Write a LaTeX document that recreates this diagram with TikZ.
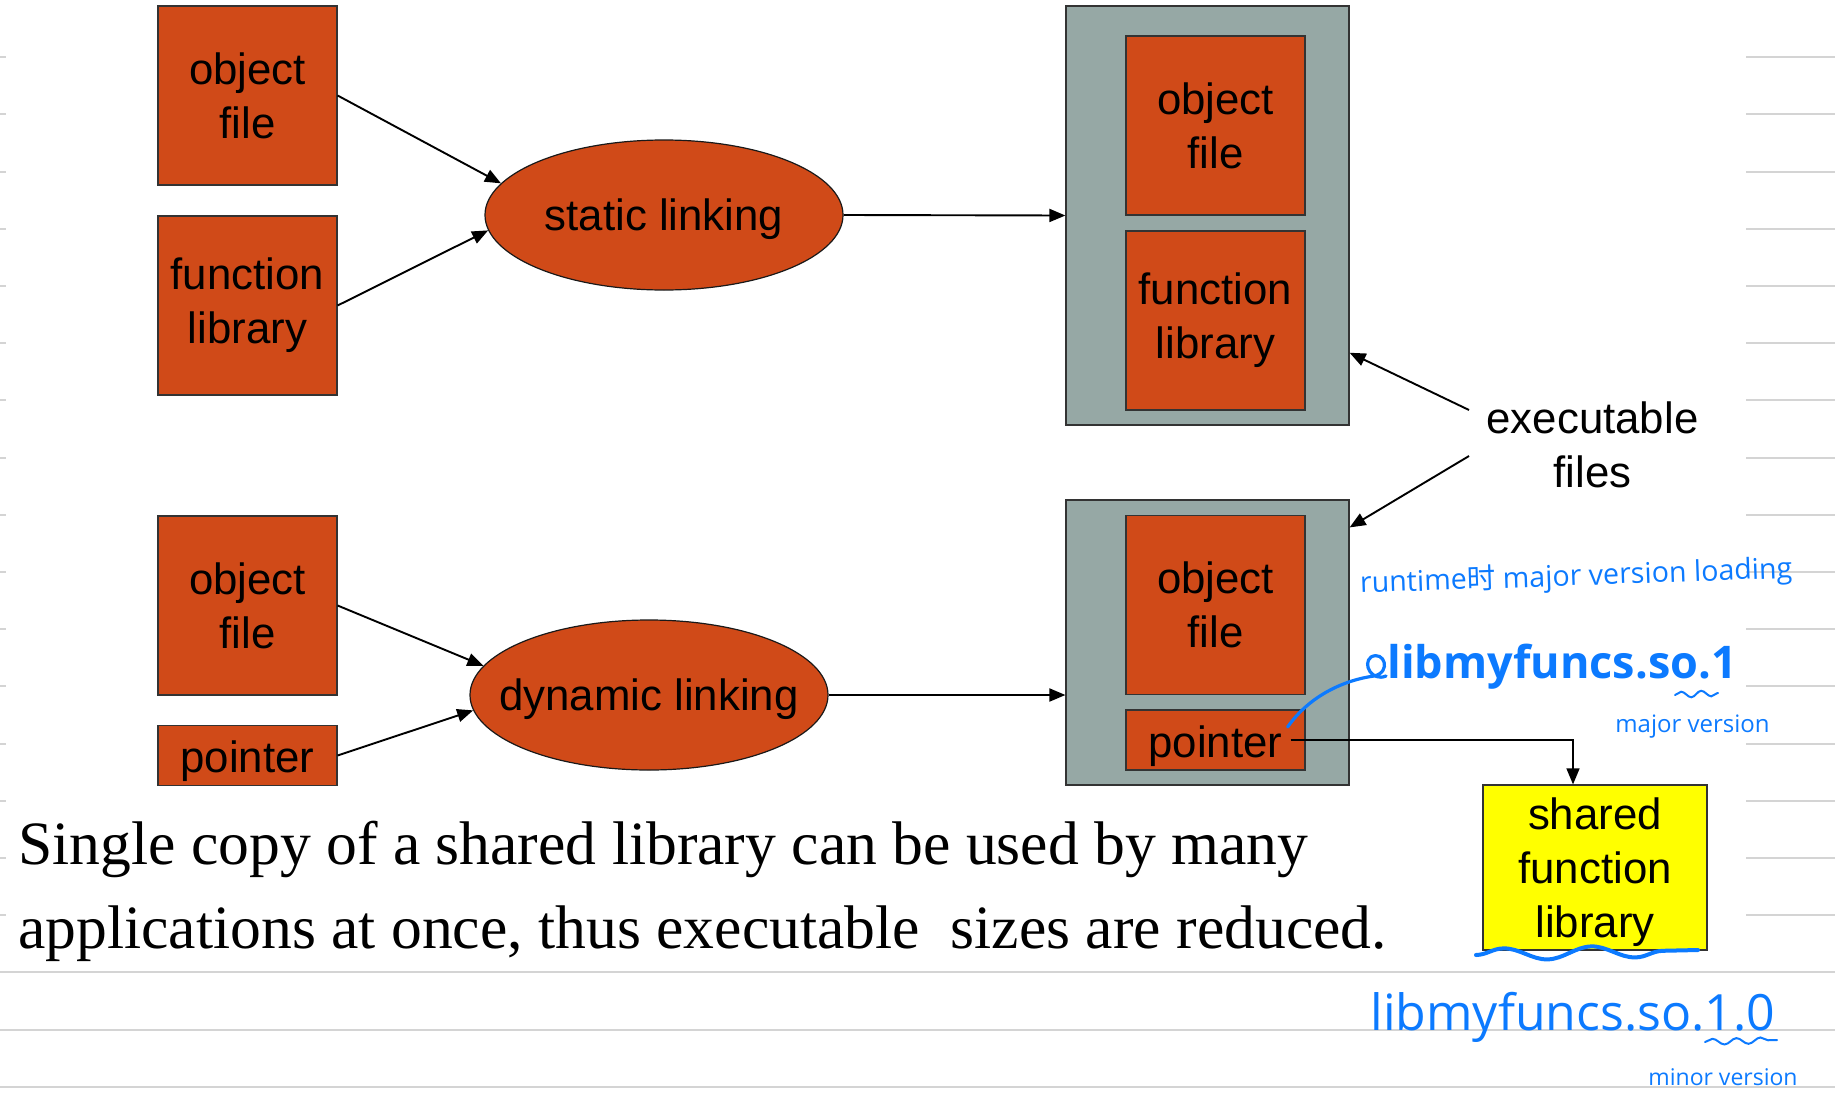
\documentclass[tikz,border=0pt]{standalone}
\usepackage{fontspec}
\setmainfont{Liberation Serif}
\setsansfont{Liberation Sans}
\newfontfamily\handfont{Open Sans}
\newfontfamily\cjkfont{Noto Sans CJK SC}
\usetikzlibrary{arrows.meta, shapes.geometric, decorations.pathmorphing}
\definecolor{myRust}{RGB}{208,74,24}
\definecolor{mySlate}{RGB}{150,168,165}
\definecolor{myYellow}{RGB}{255,255,0}
\definecolor{myInk}{RGB}{12,122,255}
\definecolor{myRule}{RGB}{212,212,212}

\begin{document}
\begin{tikzpicture}[
  x=0.5pt, y=-0.5pt,
  box/.style={draw=black!80, line width=0.6pt, fill=myRust, align=center,
    font=\sffamily\fontsize{21.9}{27}\selectfont,
    minimum width=89.5pt, minimum height=89.5pt, inner sep=0pt},
  ptrbox/.style={box, minimum height=30pt, text height=17pt, text depth=0pt},
  exebox/.style={draw=black!80, line width=0.6pt, fill=mySlate,
    minimum width=141.5pt, inner sep=0pt},
  linkell/.style={ellipse, draw=black!90, line width=0.6pt, fill=myRust,
    font=\sffamily\fontsize{21.9}{26.6}\selectfont,
    text height=15pt, text depth=0pt,
    minimum width=179pt, minimum height=75pt, inner xsep=-20pt, inner ysep=0pt},
  arr/.style={-{Triangle[length=8pt,width=6.5pt]}, line width=0.95pt},
  rule/.style={myRule, line width=1pt},
  ink/.style={myInk, line width=1.6pt, line cap=round},
  hand/.style={text=myInk, inner sep=0pt, anchor=base west},
]
  \useasboundingbox (0,0) rectangle (1835,1103);

  % ruled page behind the slide
  \foreach \k in {1,...,16} {
    \draw[rule] (0,57.2*\k) -- (6,57.2*\k);
    \draw[rule] (1746,57.2*\k) -- (1835,57.2*\k);
  }
  \foreach \k in {17,18,19}
    \draw[rule] (0,57.2*\k) -- (1835,57.2*\k);

  % static linking
  \node[box] (objS) at (247.5,95.5) {object\\file};
  \node[box] (libS) at (247.5,305.5) {function\\library};
  \node[linkell] (stat) at (664,215) {static linking};
  \node[exebox, minimum height=209.5pt] (exeS) at (1207.5,215.5) {};
  \node[box] (objSin) at (1215.5,125.5) {object\\file};
  \node[box] (libSin) at (1215.5,320.5) {function\\library};

  % dynamic linking
  \node[box] (objD) at (247.5,605.5) {object\\file};
  \node[ptrbox] (ptrD) at (247.5,755.5) {pointer};
  \node[linkell] (dyn) at (649,695) {dynamic linking};
  \node[exebox, minimum height=142.5pt] (exeD) at (1207.5,642.5) {};
  \node[box] (objDin) at (1215.5,605) {object\\file};
  \node[ptrbox] (ptrDin) at (1215.5,740) {pointer};
  \node[box, fill=myYellow, minimum width=112pt, minimum height=82.5pt,
    text depth=0pt] (shared) at (1595,867.5) {shared\\function\\library};

  \node[font=\sffamily\fontsize{21.9}{27}\selectfont, align=center]
    (exeTxt) at (1592.5,444.5) {executable\\files};
  \coordinate (eUp) at (1469,410);
  \coordinate (eDn) at (1469,456);

  \draw[arr] (objS.east) -- (stat.169);
  \draw[arr] (libS.east) -- (stat.185);
  \draw[arr] (stat.east) -- (exeS.west);
  \draw[arr] (objD.east) -- (dyn.170);
  \draw[arr] (ptrD.east) -- (dyn.185);
  \draw[arr] (dyn.east) -- (dyn.east -| exeD.west);
  \draw[arr] (eUp) -- (exeS.-44);
  \draw[arr] (eDn) -- (exeD.39);
  \draw[arr, line width=0.7pt] ([xshift=-7.5pt]ptrDin.east)
    -| ([xshift=-11pt]shared.north);

  \node[anchor=base west, align=left, inner sep=0pt,
    font=\fontsize{30.8}{42}\selectfont] (summary) at (18,948)
    {Single copy of a shared library can be used by many\\
     applications at once, thus executable~ sizes are reduced.};

  % handwritten notes
  \node[hand, rotate=2, font=\handfont\fontsize{14.3}{14.3}\selectfont]
    (noteRun) at (1360,593) {runtime{\cjkfont 时} major version loading};
  \node[hand, font=\handfont\bfseries\fontsize{22.5}{22.5}\selectfont]
    (noteMaj) at (1387,678) {libmyfuncs.so.1};
  \node[hand, font=\handfont\fontsize{12}{12}\selectfont]
    (noteMajV) at (1615,732) {major version};
  \node[hand, font=\handfont\fontsize{25}{25}\selectfont]
    (noteMin) at (1370,1030) {libmyfuncs.so.1.0};
  \node[hand, font=\handfont\fontsize{11.5}{11.5}\selectfont]
    (noteMinV) at (1648,1085) {minor version};

  \draw[ink] ([shift={(-9pt,6.5pt)}]ptrDin.east)
    .. controls (1310,695) and (1345,680) .. (1374,676)
    .. controls (1392,672) and (1384,650) .. (1371,657)
    .. controls (1362,664) and (1372,682) .. (1386,676);
  \draw[ink, line width=1pt, decorate,
    decoration={snake, amplitude=1.5pt, segment length=10pt}]
    (1675,695) -- (1718,693);
  \draw[ink, line width=2pt, decorate,
    decoration={snake, amplitude=3pt, segment length=44pt}]
    (1476,955) -- (1698,950);
  \draw[ink, line width=1pt, decorate,
    decoration={snake, amplitude=1.5pt, segment length=12pt}]
    (1705,1042) -- (1777,1040);
\end{tikzpicture}
\end{document}
